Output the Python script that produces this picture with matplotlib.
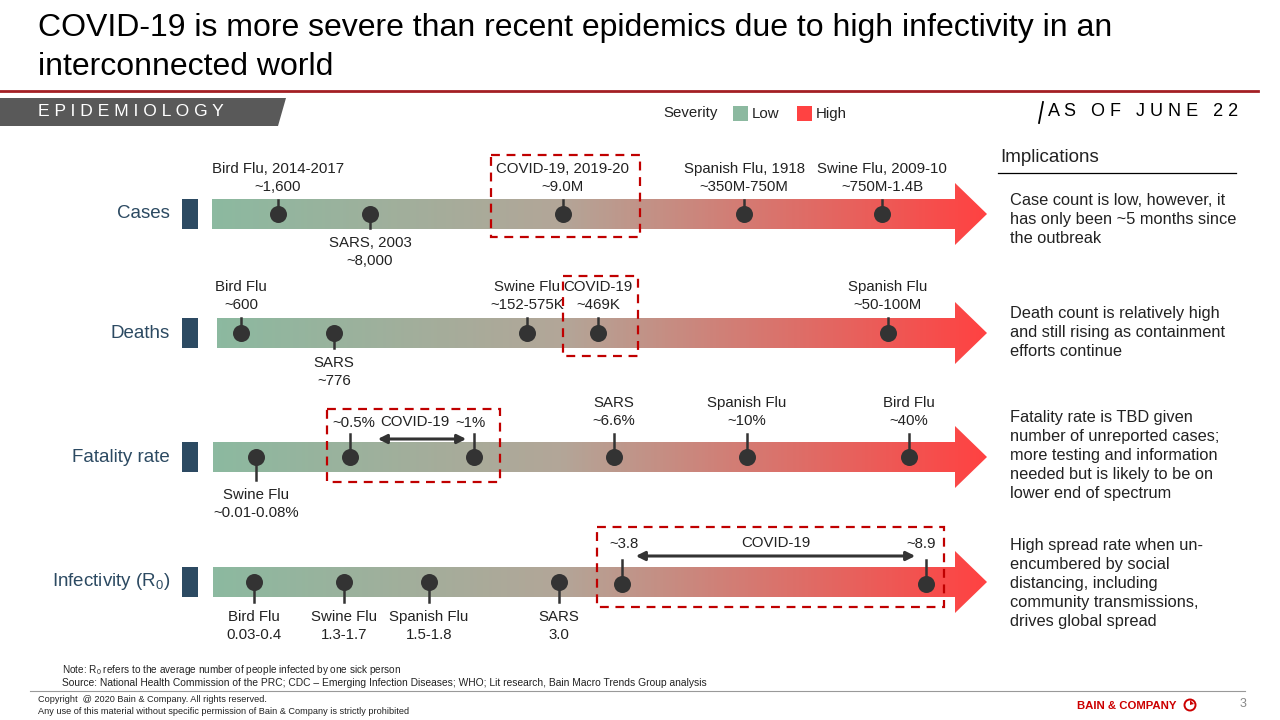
import numpy as np
import matplotlib
matplotlib.use('Agg')
import matplotlib.pyplot as plt
from matplotlib.patches import Polygon, Rectangle, Circle
from matplotlib.colors import LinearSegmentedColormap

plt.rcParams['font.family'] = ['Liberation Sans', 'DejaVu Sans']
plt.rcParams['mathtext.fontset'] = 'custom'
plt.rcParams['mathtext.rm'] = 'Liberation Sans'
plt.rcParams['mathtext.it'] = 'Liberation Sans'

# ---- data (positions along each severity arrow, in pixels) ----
row_names = ['Cases', 'Deaths', 'Fatality rate', r'Infectivity (R$_0$)']

cases_names = ['Bird Flu, 2014-2017', 'SARS, 2003', 'COVID-19, 2019-20', 'Spanish Flu, 1918', 'Swine Flu, 2009-10']
cases_values = ['~1,600', '~8,000', '~9.0M', '~350M-750M', '~750M-1.4B']
cases_pos = [278, 370, 563, 744, 882]
cases_side = ['up', 'down', 'up', 'up', 'up']

deaths_names = ['Bird Flu', 'SARS', 'Swine Flu', 'COVID-19', 'Spanish Flu']
deaths_values = ['~600', '~776', '~152-575K', '~469K', '~50-100M']
deaths_pos = [241, 334, 527, 598, 888]
deaths_side = ['up', 'down', 'up', 'up', 'up']

fatality_names = ['Swine Flu', 'SARS', 'Spanish Flu', 'Bird Flu']
fatality_values = ['~0.01-0.08%', '~6.6%', '~10%', '~40%']
fatality_pos = [256, 614, 747, 909]
fatality_side = ['down', 'up', 'up', 'up']
fatality_covid = ['~0.5%', '~1%']
fatality_covid_pos = [350, 474]

infect_names = ['Bird Flu', 'Swine Flu', 'Spanish Flu', 'SARS']
infect_values = ['0.03-0.4', '1.3-1.7', '1.5-1.8', '3.0']
infect_pos = [254, 344, 429, 559]
infect_side = ['down', 'down', 'down', 'down']
infect_covid = ['~3.8', '~8.9']
infect_covid_pos = [622, 926]

implications = [
    'Case count is low, however, it\nhas only been ~5 months since\nthe outbreak',
    'Death count is relatively high\nand still rising as containment\nefforts continue',
    'Fatality rate is TBD given\nnumber of unreported cases;\nmore testing and information\nneeded but is likely to be on\nlower end of spectrum',
    'High spread rate when un-\nencumbered by social\ndistancing, including\ncommunity transmissions,\ndrives global spread',
]

# ---- styles ----
row_y = [214, 333, 457, 582]
arrow_x0 = [212, 217, 213, 213]
stem_len = [14, 15, 23, 24]
impl_y = [202, 315, 419, 547]
GREEN = '#8cb9a0'
RED = '#ff4242'
DARK = '#333333'
NAVY = '#2c4a62'
BOXRED = '#c00000'
TXT = '#222222'
FS = 10.8

cmap = LinearSegmentedColormap.from_list('sev', [(0, GREEN), (0.45, '#b3a698'), (1, RED)])

fig = plt.figure(figsize=(12.8, 7.2), dpi=100)
ax = fig.add_axes([0, 0, 1, 1])
ax.set_xlim(0, 1280)
ax.set_ylim(720, 0)
ax.axis('off')

# title and header
ax.text(38, 28, 'COVID-19 is more severe than recent epidemics due to high infectivity in an',
        fontsize=23, va='center', color='black')
ax.text(38, 67, 'interconnected world', fontsize=23, va='center', color='black')
ax.plot([0, 1258], [91, 91], color='#a31f24', lw=2)

ax.add_patch(Polygon([[0, 98], [286, 98], [278, 126], [0, 126]], closed=True, color='#595959', lw=0))
ax.text(38, 112, ' '.join('EPIDEMIOLOGY'), fontsize=12.6, color='white', va='center')

ax.text(663, 113, 'Severity', fontsize=10.8, va='center', color=TXT)
ax.add_patch(Rectangle((733, 106), 15, 15, color=GREEN, lw=0))
ax.text(752, 114, 'Low', fontsize=10.8, va='center', color=TXT)
ax.add_patch(Rectangle((797, 106), 15, 15, color=RED, lw=0))
ax.text(816, 114, 'High', fontsize=10.8, va='center', color=TXT)

ax.plot([1043, 1039], [102, 123], color='black', lw=1.3)
ax.text(1048, 112, 'A S   O F   J U N E   2 2', fontsize=13, va='center', color='black')

ax.text(1000, 158, 'Implications', fontsize=13.5, va='center', color=TXT)
ax.plot([998, 1236], [173, 173], color='black', lw=0.9)
for t, y in zip(implications, impl_y):
    ax.text(1010, y - 9, t, fontsize=11.8, va='top', color=TXT, linespacing=1.34)


def draw_arrow(x0, yc):
    x1, xh = 955, 987
    pts = [[x0, yc - 15], [x1, yc - 15], [x1, yc - 31], [xh, yc], [x1, yc + 31],
           [x1, yc + 15], [x0, yc + 15]]
    poly = Polygon(pts, closed=True, facecolor='none', edgecolor='none')
    ax.add_patch(poly)
    grad = np.linspace(0, 1, 256).reshape(1, -1)
    im = ax.imshow(grad, cmap=cmap, extent=[x0, xh, yc + 31, yc - 31], aspect='auto',
                   interpolation='bilinear', zorder=1)
    im.set_clip_path(poly)


def draw_point(x, yc, side, name, value, stem):
    if side == 'up':
        ax.plot([x, x], [yc, yc - stem], color=DARK, lw=1.8, zorder=3)
        if name:
            ax.text(x, yc - stem - 13, value, ha='center', va='center', fontsize=FS, color=TXT, zorder=4)
            ax.text(x, yc - stem - 31, name, ha='center', va='center', fontsize=FS, color=TXT, zorder=4)
    else:
        ax.plot([x, x], [yc, yc + stem], color=DARK, lw=1.8, zorder=3)
        ax.text(x, yc + stem + 15, name, ha='center', va='center', fontsize=FS, color=TXT, zorder=4)
        ax.text(x, yc + stem + 33, value, ha='center', va='center', fontsize=FS, color=TXT, zorder=4)
    ax.scatter([x], [yc], s=150, color=DARK, zorder=4, lw=0)


def dashed_box(x0, y0, x1, y1):
    ax.add_patch(Rectangle((x0, y0), x1 - x0, y1 - y0, fill=False, edgecolor=BOXRED,
                           lw=1.6, ls=(0, (4, 3)), zorder=5))


for i, (name, yc) in enumerate(zip(row_names, row_y)):
    ax.text(170, yc, name, ha='right', va='center', fontsize=13.5, color=NAVY)
    ax.add_patch(Rectangle((182, yc - 15), 16, 30, color=NAVY, lw=0))
    draw_arrow(arrow_x0[i], yc)

for n, v, p, s in zip(cases_names, cases_values, cases_pos, cases_side):
    draw_point(p, row_y[0], s, n, v, stem_len[0])
dashed_box(491, 155, 640, 237)

for n, v, p, s in zip(deaths_names, deaths_values, deaths_pos, deaths_side):
    draw_point(p, row_y[1], s, n, v, stem_len[1])
dashed_box(563, 276, 638, 356)

for n, v, p, s in zip(fatality_names, fatality_values, fatality_pos, fatality_side):
    draw_point(p, row_y[2], s, n, v, stem_len[2])
for v, p in zip(fatality_covid, fatality_covid_pos):
    draw_point(p, row_y[2], 'up', None, None, stem_len[2])
    ax.text(p + (4 if p == fatality_covid_pos[0] else -4), 423, v, ha='center', va='center',
            fontsize=FS, color=TXT)
ax.annotate('', xy=(fatality_covid_pos[1] - 5, 439), xytext=(fatality_covid_pos[0] + 25, 439),
            arrowprops=dict(arrowstyle='<|-|>', color=DARK, lw=2.2, mutation_scale=13), zorder=4)
ax.text(415, 422, 'COVID-19', ha='center', va='center', fontsize=FS, color=TXT)
dashed_box(327, 409, 500, 482)

for n, v, p, s in zip(infect_names, infect_values, infect_pos, infect_side):
    draw_point(p, row_y[3], s, n, v, stem_len[3] - 4)
for v, p in zip(infect_covid, infect_covid_pos):
    draw_point(p, row_y[3] + 2, 'up', None, None, stem_len[3])
    ax.text(p + (2 if p == infect_covid_pos[0] else -5), 544, v, ha='center', va='center',
            fontsize=FS, color=TXT)
ax.annotate('', xy=(infect_covid_pos[1] - 8, 556), xytext=(infect_covid_pos[0] + 11, 556),
            arrowprops=dict(arrowstyle='<|-|>', color=DARK, lw=2.2, mutation_scale=13), zorder=4)
ax.text(776, 543, 'COVID-19', ha='center', va='center', fontsize=FS, color=TXT)
dashed_box(597, 527, 944, 607)

# footer
ax.text(62, 670, r'Note: R$_0$ refers to the average number of people infected by one sick person',
        fontsize=7.2, va='center', color=TXT)
ax.text(62, 683, 'Source: National Health Commission of the PRC; CDC \u2013 Emerging Infection Diseases; '
        'WHO; Lit research, Bain Macro Trends Group analysis', fontsize=7.4, va='center', color=TXT)
ax.plot([30, 1245], [691, 691], color='#999999', lw=0.8)
ax.text(38, 700, 'Copyright  @ 2020 Bain & Company. All rights reserved.', fontsize=6.6, va='center', color=TXT)
ax.text(38, 711, 'Any use of this material without specific permission of Bain & Company is strictly prohibited',
        fontsize=6.6, va='center', color=TXT)
ax.text(1077, 706, 'BAIN & COMPANY', fontsize=8.2, fontweight='bold', va='center', color='#cc0000')
ax.add_patch(Circle((1190, 705), 5.5, fill=False, edgecolor='#cc0000', lw=1.4))
ax.add_patch(Polygon([[1190, 705], [1190, 700], [1194, 704]], closed=True, color='#cc0000', lw=0))
ax.text(1240, 704, '3', fontsize=9, va='center', color='#888888')

fig.savefig('out.png', dpi=100)
